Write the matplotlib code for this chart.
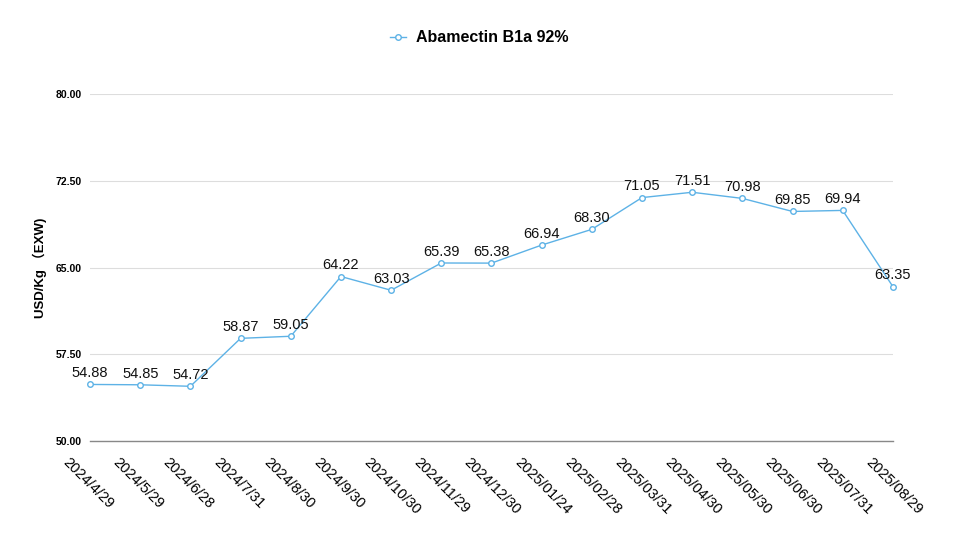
import matplotlib.pyplot as plt
import matplotlib.transforms as mtransforms

plt.rcParams['font.family'] = ['Liberation Sans', 'Noto Sans CJK SC', 'DejaVu Sans']

# 数据
dates = ["2024/4/29", "2024/5/29", "2024/6/28", "2024/7/31", "2024/8/30",
         "2024/9/30", "2024/10/30", "2024/11/29", "2024/12/30", "2025/01/24",
         "2025/02/28", "2025/03/31", "2025/04/30", "2025/05/30", "2025/06/30",
         "2025/07/31", "2025/08/29"]
prices = [54.88, 54.85, 54.72, 58.87, 59.05, 64.22, 63.03, 65.39, 65.38,
          66.94, 68.30, 71.05, 71.51, 70.98, 69.85, 69.94, 63.35]
yticks = [50.0, 57.5, 65.0, 72.5, 80.0]

line_color = "#5DB2E6"

fig = plt.figure(figsize=(9.58, 5.35), dpi=100)
ax = fig.add_axes([0.094, 0.176, 0.838, 0.648])

x = list(range(len(dates)))
ax.plot(x, prices, color=line_color, lw=1.0, marker="o", ms=4,
        mfc="white", mec=line_color, mew=1.0, clip_on=False,
        label="Abamectin B1a 92%")

for xi, p in zip(x, prices):
    ax.annotate(f"{p:.2f}", (xi, p), xytext=(0, 3), textcoords="offset points",
                ha="center", va="bottom", fontsize=10.5, color="#111111")

ax.set_xlim(0, len(dates) - 1)
ax.set_ylim(50, 80)
ax.set_yticks(yticks)
ax.set_yticklabels([f"{v:.2f}" for v in yticks], fontsize=7.5, fontweight="bold")
ax.grid(axis="y", color="#dddddd", lw=0.8)
ax.set_axisbelow(True)
for s in ["top", "right", "left"]:
    ax.spines[s].set_visible(False)
ax.spines["bottom"].set_color("#888888")
ax.spines["bottom"].set_linewidth(1.0)
ax.tick_params(axis="both", length=0)
ax.tick_params(axis="y", pad=6)

ax.set_xticks(x)
ax.set_xticklabels(dates, rotation=-45, ha="left", va="top",
                   rotation_mode="anchor", fontsize=10.5)
offset = mtransforms.ScaledTranslation(-20 / 100, -10 / 100, fig.dpi_scale_trans)
for lbl in ax.get_xticklabels():
    lbl.set_transform(lbl.get_transform() + offset)

ax.set_ylabel("USD/Kg （EXW)", fontsize=9.5, fontweight="bold", labelpad=6)

fig.legend(loc="upper center", bbox_to_anchor=(0.5, 0.97), frameon=False,
           prop={"weight": "bold", "size": 11.5}, handlelength=1.0,
           handletextpad=0.6)

fig.savefig("out.png", dpi=100)
